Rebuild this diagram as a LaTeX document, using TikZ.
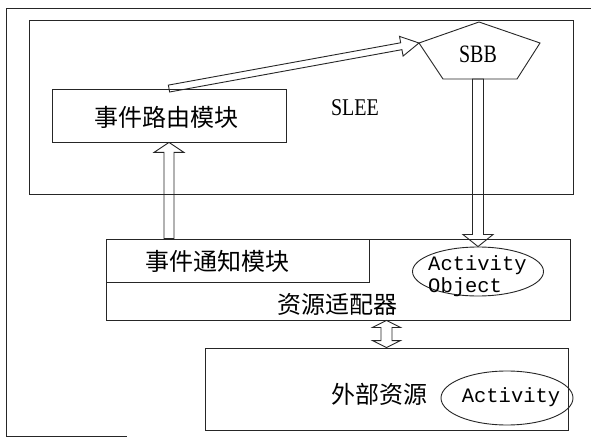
\documentclass[tikz,border=0pt]{standalone}
\usepackage{fontspec}
\setmainfont{Liberation Serif}
\setmonofont{Liberation Mono}
\newfontfamily\cjk{Noto Sans CJK SC}
\usetikzlibrary{calc,shapes.geometric}
\tikzset{
  ln/.style={draw=black!85, line width=0.9pt},
  boxnode/.style={ln, rectangle, inner sep=0pt},
  cjktext/.style={font=\cjk\fontsize{24}{26}\selectfont, inner sep=0pt},
  latintext/.style={font=\fontsize{20}{22}\selectfont, inner sep=0pt},
  monotext/.style={font=\ttfamily\fontsize{20.5}{22}\selectfont, inner sep=0pt},
  ell/.style={ln, ellipse, inner sep=0pt},
  harrowline/.style={ln, line join=miter},
}
% hollow arrow: start, tip, shaft half width, head half width, head length
\newcommand{\harrow}[5]{%
  \coordinate (ha-h) at ($(#2)!#5!(#1)$);
  \draw[harrowline] ($(#1)!#3!90:(#2)$) -- ($(ha-h)!#3!90:(#2)$) -- ($(ha-h)!#4!90:(#2)$) -- (#2)
    -- ($(ha-h)!#4!-90:(#2)$) -- ($(ha-h)!#3!-90:(#2)$) -- ($(#1)!#3!-90:(#2)$) -- cycle;
}
% hollow double-headed arrow
\newcommand{\dharrow}[5]{%
  \coordinate (hb-1) at ($(#1)!#5!(#2)$);
  \coordinate (hb-2) at ($(#2)!#5!(#1)$);
  \draw[harrowline] (#1) -- ($(hb-1)!#4!90:(#2)$) -- ($(hb-1)!#3!90:(#2)$) -- ($(hb-2)!#3!90:(#2)$)
    -- ($(hb-2)!#4!90:(#2)$) -- (#2) -- ($(hb-2)!#4!-90:(#2)$) -- ($(hb-2)!#3!-90:(#2)$)
    -- ($(hb-1)!#3!-90:(#2)$) -- ($(hb-1)!#4!-90:(#2)$) -- cycle;
}
\begin{document}
\begin{tikzpicture}[x=1pt,y=-1pt]
\useasboundingbox (0,0) rectangle (591,438);
\fill[white] (0,0) rectangle (591,438);

% outer frame (partly visible)
\draw[ln] (591,8) -- (6,8) -- (6,436) -- (127,436);

% SLEE box
\node[boxnode, minimum width=544, minimum height=174.5] (slee) at (301,107.25) {};
\node[latintext] (sleelabel) at (355,108) {\scalebox{1}[1.2]{SLEE}};

% event routing module
\node[boxnode, minimum width=234, minimum height=53] (routing) at (169,115.5) {};
\node[cjktext] (routingT) at (166,117) {事件路由模块};

% SBB pentagon
\coordinate (sbbT) at (479,22);
\coordinate (sbbR) at (540,43);
\coordinate (sbbBR) at (517,79);
\coordinate (sbbBL) at (443,79);
\coordinate (sbbL) at (419,43);
\coordinate (sbbB) at (478,79);
\draw[ln, line join=miter] (sbbT) -- (sbbR) -- (sbbBR) -- (sbbBL) -- (sbbL) -- cycle;
\node[latintext] (sbb) at (478,54) {\scalebox{1}[1.25]{SBB}};

% resource adapter
\node[boxnode, minimum width=464, minimum height=81] (adapter) at (338,279.5) {};
\node[boxnode, minimum width=263, minimum height=43] (notify) at (237.5,260.5) {};
\node[cjktext] (notifyT) at (217.5,261) {事件通知模块};
\node[cjktext] (adapterT) at (337,304) {资源适配器};
\node[ell, minimum width=131, minimum height=49] (actobj) at (478,271.5) {};
\node[monotext, align=left, anchor=west] (actobjT) at (428,276) {Activity\\Object};

% external resource
\node[boxnode, minimum width=363, minimum height=82] (external) at (386.5,389) {};
\node[cjktext] (externalT) at (379,394) {外部资源};
\node[ell, minimum width=132, minimum height=54] (act) at (507,398) {};
\node[monotext] (actT) at (511,397) {Activity};

% connectors
\coordinate (upStart) at (routing.south |- notify.north);
\coordinate (dStart) at (external.north |- adapter.south);
\harrow{routing.north}{sbbL}{3.5pt}{10pt}{18pt}
\harrow{sbbB}{actobj.north}{5.5pt}{15pt}{12pt}
\harrow{upStart}{routing.south}{5pt}{15pt}{10pt}
\dharrow{dStart}{external.north}{5.5pt}{14pt}{7pt}
\end{tikzpicture}
\end{document}
